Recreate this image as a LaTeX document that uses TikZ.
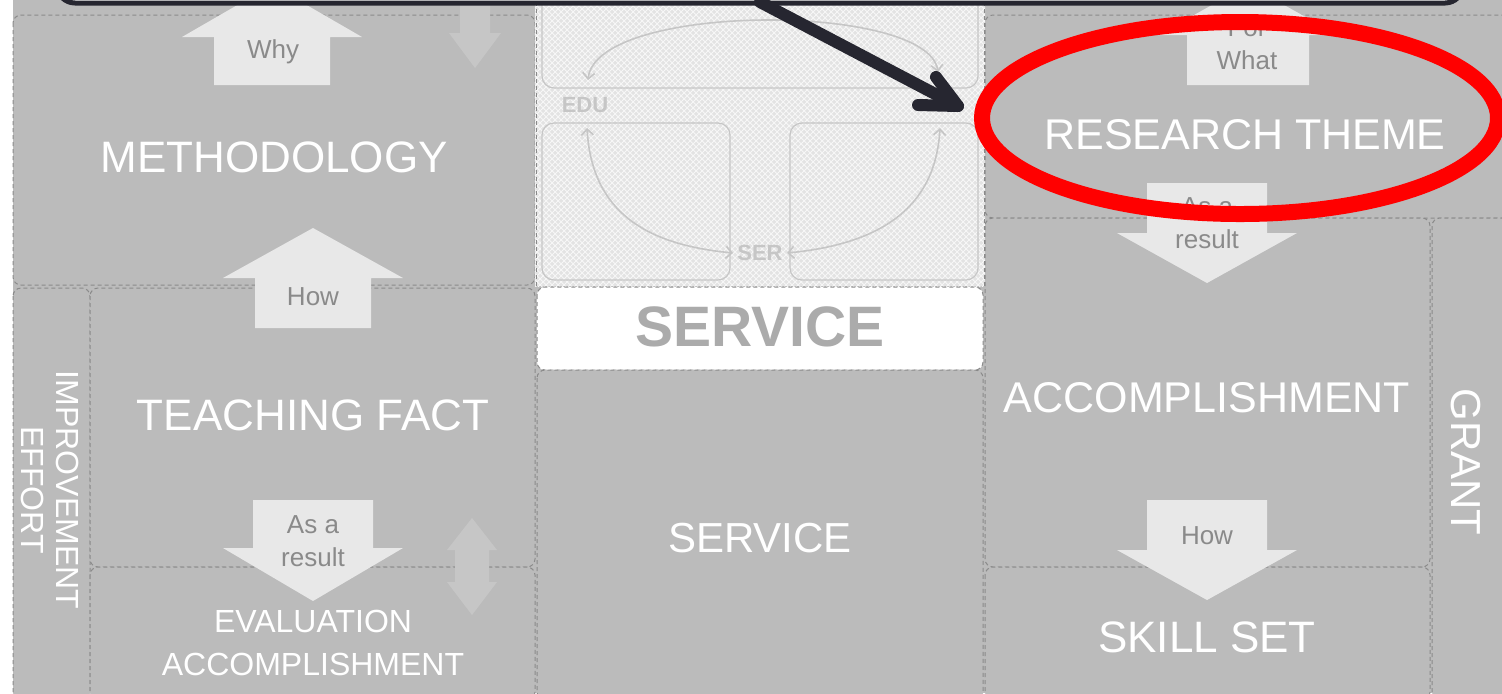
\documentclass[tikz,border=0pt]{standalone}
\usepackage{fontspec}
\setmainfont{Liberation Sans}
\usetikzlibrary{patterns,arrows.meta,calc}
\definecolor{cellgray}{HTML}{BBBBBB}
\definecolor{arrowgray}{HTML}{E8E8E8}
\definecolor{labelgray}{HTML}{8A8A8A}
\definecolor{dashgray}{HTML}{8A8A8A}
\definecolor{hatchgray}{HTML}{E3E3E3}
\definecolor{softgray}{HTML}{C6C6C6}
\definecolor{darkarrow}{HTML}{262630}
\definecolor{servgray}{HTML}{ABABAB}
\newcommand{\blockarrow}[7]{%
  \fill[#7] ({#1-#6},#3) -- (#1,#2) -- ({#1+#6},#3) -- ({#1+#5},#3) -- ({#1+#5},#4) -- ({#1-#5},#4) -- ({#1-#5},#3) -- cycle;}
\tikzset{
  cellbox/.style={draw=dashgray, line width=0.5pt, dash pattern=on 2pt off 1.5pt, fill=cellgray, rounded corners=4pt},
  innerbox/.style={draw=softgray, line width=0.6pt, rounded corners=6pt},
  bigtext/.style={text=white, font=\fontsize{22pt}{26pt}\selectfont, align=center, inner sep=0pt},
  midtext/.style={text=white, font=\fontsize{16pt}{21.5pt}\selectfont, align=center, inner sep=0pt},
  arrowtext/.style={text=labelgray, font=\fontsize{13pt}{16.5pt}\selectfont, align=center, inner sep=0pt},
  smalltext/.style={text=softgray, font=\bfseries\fontsize{11pt}{13pt}\selectfont, inner sep=0pt},
  cyclearc/.style={draw=softgray, line width=0.8pt},
  barb/.tip={Straight Barb[length=3pt,width=6pt]},
}
\begin{document}
\begin{tikzpicture}[x=0.5pt, y=-0.5pt]
\clip (0,0) rectangle (1502,693);
\fill[white] (0,0) rectangle (1502,693);
% general gray background
\fill[cellgray] (13,0) rectangle (1502,693);
% left column cells
\draw[cellbox] (13,15) rectangle (535,285);
\draw[cellbox] (13,288) rectangle (90,700);
\draw[cellbox] (90,288) rectangle (535,567);
\draw[cellbox] (90,567) rectangle (535,700);
% middle column
\fill[hatchgray] (535,-5) rectangle (985,286);
\fill[pattern=crosshatch, pattern color=white!70!hatchgray] (535,-5) rectangle (985,286);
\draw[dashgray, line width=0.5pt, dash pattern=on 2pt off 1.5pt] (536,-5) -- (536,286) (984,-5) -- (984,286);
\draw[innerbox] (542,-10) rectangle (978,88);
\draw[innerbox] (542,123) rectangle (730,280);
\draw[innerbox] (790,123) rectangle (978,280);
\draw[cellbox, fill=white] (537,287) rectangle (983,370);
\draw[cellbox] (537,370) rectangle (983,700);
% right column cells
\draw[cellbox] (985,15) rectangle (1510,218);
\draw[cellbox] (985,218) rectangle (1430,567);
\draw[cellbox] (1432,218) rectangle (1510,700);
\draw[cellbox] (985,567) rectangle (1430,700);
% cycle in hatched area
\node[smalltext] (edu) at (585,105) {EDU};
\node[smalltext] (ser) at (760,253) {SER};
\coordinate (tl) at (588,80);
\coordinate (tr) at (938,72);
\coordinate (bl) at (587,128);
\coordinate (br) at (940,128);
\draw[cyclearc, barb-barb] (tl) .. controls (596,2) and (928,2) .. (tr);
\draw[cyclearc, barb-barb] (bl) .. controls (592,215) and (650,245) .. ($(ser.west)+(-4,0)$);
\draw[cyclearc, barb-barb] (br) .. controls (935,215) and (870,245) .. ($(ser.east)+(4,0)$);
% block arrows
\blockarrow{272}{-15}{37}{85}{58}{90}{arrowgray}
\blockarrow{313}{228}{278}{328}{58}{90}{arrowgray}
\blockarrow{313}{601}{548}{500}{60}{90}{arrowgray}
\blockarrow{1248}{-15}{35}{85}{61}{90}{arrowgray}
\blockarrow{1207}{283}{233}{183}{60}{90}{arrowgray}
\blockarrow{1207}{600}{550}{500}{60}{90}{arrowgray}
\blockarrow{475}{68}{33}{-5}{15}{26}{softgray}
\fill[softgray] (472,518) -- (497,550) -- (489,550) -- (489,582) -- (497,582) -- (472,615) -- (447,582) -- (455,582) -- (455,550) -- (447,550) -- cycle;
% arrow labels
\node[arrowtext] (why) at (273,52) {Why};
\node[arrowtext] (howl) at (313,297) {How};
\node[arrowtext] (resl) at (313,541) {As a\\result};
\node[arrowtext] (forwhat) at (1247,44) {For\\What};
\node[arrowtext] (resr) at (1207,223) {As a\\result};
\node[arrowtext] (howr) at (1207,536) {How};
% main labels
\node[bigtext] (meth) at (274,157) {METHODOLOGY};
\node[bigtext] (teach) at (313,415) {TEACHING FACT};
\node[midtext] (eval) at (313,643) {EVALUATION\\ACCOMPLISHMENT};
\node[midtext, rotate=-90, font=\fontsize{16pt}{17.5pt}\selectfont] (impr) at (50,490) {IMPROVEMENT\\EFFORT};
\node[text=servgray, font=\bfseries\fontsize{28.5pt}{30pt}\selectfont, inner sep=0pt] (servband) at (760,327) {SERVICE};
\node[bigtext, font=\fontsize{21pt}{25pt}\selectfont] (serv) at (760,538) {SERVICE};
\node[bigtext, font=\fontsize{21.5pt}{25pt}\selectfont] (research) at (1245,135) {RESEARCH THEME};
\node[bigtext, font=\fontsize{21.5pt}{25pt}\selectfont] (accomp) at (1207,398) {ACCOMPLISHMENT};
\node[bigtext] (skill) at (1207,637) {SKILL SET};
\node[bigtext, font=\fontsize{21pt}{25pt}\selectfont, rotate=-90] (grant) at (1466,462) {GRANT};
% callout box
\draw[draw=darkarrow, line width=2.5pt, fill=white, rounded corners=9pt] (57,-60) rectangle (1463,3);
% dark pointer arrow
\coordinate (pstart) at (760,2);
\coordinate (ptip) at (958,106);
\draw[darkarrow, line width=6pt, line cap=round] (pstart) -- (ptip);
\draw[darkarrow, line width=6pt, line cap=round, line join=round] ($(ptip)+(-22,-29)$) -- (ptip) -- ($(ptip)+(-40,-1)$);
% red ellipse
\draw[red, line width=8pt] (1240,118) ellipse [x radius=129pt, y radius=48pt];
\end{tikzpicture}
\end{document}
